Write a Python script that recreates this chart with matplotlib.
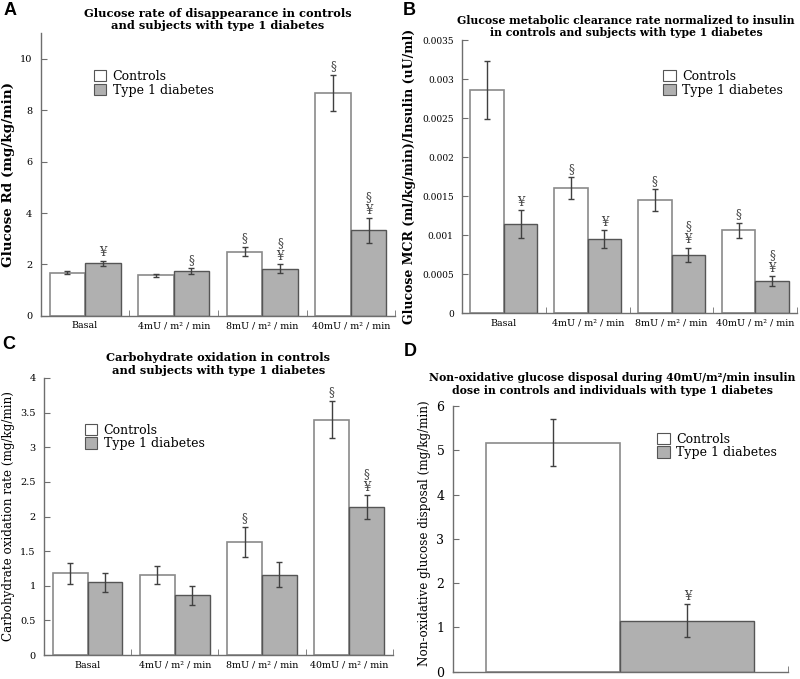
import numpy as np
import matplotlib
matplotlib.use("Agg")
import matplotlib.pyplot as plt
from matplotlib.patches import Patch

plt.rcParams['font.family'] = ['DejaVu Serif']

doses = ['Basal', '4mU / m² / min', '8mU / m² / min', '40mU / m² / min']

# A - glucose Rd
rd_ctrl = [1.68, 1.57, 2.50, 8.68]
rd_ctrl_err = [0.07, 0.07, 0.19, 0.70]
rd_t1d = [2.04, 1.74, 1.83, 3.32]
rd_t1d_err = [0.10, 0.10, 0.17, 0.47]
rd_ann_ctrl = ['', '', '§', '§']
rd_ann_t1d = ['¥', '§', '§\n¥', '§\n¥']

# B - MCR / insulin
mcr_ctrl = [0.00286, 0.00160, 0.00145, 0.00106]
mcr_ctrl_err = [0.00037, 0.00014, 0.00014, 0.00010]
mcr_t1d = [0.00114, 0.00095, 0.00075, 0.00041]
mcr_t1d_err = [0.00018, 0.00011, 0.00009, 0.00006]
mcr_ann_ctrl = ['', '§', '§', '§']
mcr_ann_t1d = ['¥', '¥', '§\n¥', '§\n¥']

# C - carbohydrate oxidation
cho_ctrl = [1.18, 1.15, 1.63, 3.40]
cho_ctrl_err = [0.15, 0.13, 0.22, 0.27]
cho_t1d = [1.05, 0.86, 1.16, 2.14]
cho_t1d_err = [0.14, 0.135, 0.18, 0.17]
cho_ann_ctrl = ['', '', '§', '§']
cho_ann_t1d = ['', '', '', '§\n¥']

# D - non-oxidative disposal at 40mU
nox_ctrl = [5.17]
nox_ctrl_err = [0.53]
nox_t1d = [1.15]
nox_t1d_err = [0.37]
nox_ann_ctrl = ['']
nox_ann_t1d = ['¥']

EDGE = '#6e6e6e'
GRAY = '#b0b0b0'
ECOL = '#404040'


def panel(ax, ctrl, cerr, t1d, terr, actrl, at1d, ylim, yticks, ytl,
          title, ylabel, leg_xy, labels=True, title_pad=3, title_size=8.2,
          title_x=0.5, ylabel_size=10, ylabel_weight='bold', ylabel_y=0.5,
          ytick_size=7):
    n = len(ctrl)
    x = np.arange(n)
    w = 0.4
    ax.bar(x - w / 2, ctrl, w, color='white', edgecolor='#8a8a8a', lw=1.2)
    ax.bar(x + w / 2, t1d, w, color=GRAY, edgecolor='#555555', lw=1.0)
    ax.errorbar(x - w / 2, ctrl, yerr=cerr, fmt='none', ecolor=ECOL,
                elinewidth=1, capsize=2.5, capthick=1)
    ax.errorbar(x + w / 2, t1d, yerr=terr, fmt='none', ecolor=ECOL,
                elinewidth=1, capsize=2.5, capthick=1)
    for xs, vals, errs, anns in [(x - w / 2, ctrl, cerr, actrl),
                                 (x + w / 2, t1d, terr, at1d)]:
        for xi, v, e, s in zip(xs, vals, errs, anns):
            if s:
                ax.annotate(s, (xi, v + e), xytext=(0, 1),
                            textcoords='offset points', ha='center',
                            va='bottom', fontsize=8.5, color='#444444',
                            linespacing=0.95)
    ax.set_xlim(-0.5, n - 0.5)
    ax.set_ylim(*ylim)
    ax.set_yticks(yticks)
    ax.set_yticklabels(ytl)
    ax.spines['top'].set_visible(False)
    ax.spines['right'].set_visible(False)
    for s in ['left', 'bottom']:
        ax.spines[s].set_color(EDGE)
        ax.spines[s].set_linewidth(1.0)
    ax.tick_params(axis='y', direction='in', length=4, color=EDGE,
                   labelsize=ytick_size, pad=6)
    if labels:
        ax.set_xticks(x)
        ax.set_xticklabels(doses)
    else:
        ax.set_xticks([])
    ax.tick_params(axis='x', length=0, labelsize=6.8, pad=4)
    ax.set_xticks(np.arange(n) + 0.5, minor=True)
    ax.tick_params(axis='x', which='minor', direction='in', length=4,
                   color=EDGE)
    ax.set_title(title, fontsize=title_size, fontweight='bold', pad=title_pad,
                 linespacing=1.15, x=title_x)
    ax.set_ylabel(ylabel, fontsize=ylabel_size, fontweight=ylabel_weight,
                  labelpad=4)
    ax.yaxis.label.set_y(ylabel_y)
    handles = [Patch(facecolor='white', edgecolor='#555555', lw=0.8),
               Patch(facecolor=GRAY, edgecolor='#555555', lw=0.8)]
    ax.legend(handles, ['Controls', 'Type 1 diabetes'], loc='upper left',
              bbox_to_anchor=leg_xy, frameon=False, fontsize=9,
              handlelength=1.0, handleheight=1.0, handletextpad=0.5,
              labelspacing=0.05, borderpad=0, borderaxespad=0)


fig = plt.figure(figsize=(8, 6.79), dpi=100)

axA = fig.add_axes([0.051, 0.535, 0.443, 0.416])
panel(axA, rd_ctrl, rd_ctrl_err, rd_t1d, rd_t1d_err, rd_ann_ctrl, rd_ann_t1d,
      (0, 11), [0, 2, 4, 6, 8, 10], ['0', '2', '4', '6', '8', '10'],
      'Glucose rate of disappearance in controls\nand subjects with type 1 diabetes',
      'Glucose Rd (mg/kg/min)', (0.15, 0.87), ylabel_size=9.7)

axB = fig.add_axes([0.5775, 0.539, 0.419, 0.402])
bt = [0, 0.0005, 0.001, 0.0015, 0.002, 0.0025, 0.003, 0.0035]
panel(axB, mcr_ctrl, mcr_ctrl_err, mcr_t1d, mcr_t1d_err, mcr_ann_ctrl, mcr_ann_t1d,
      (0, 0.0035), bt, ['0', '0.0005', '0.001', '0.0015', '0.002', '0.0025', '0.003', '0.0035'],
      'Glucose metabolic clearance rate normalized to insulin\nin controls and subjects with type 1 diabetes',
      'Glucose MCR (ml/kg/min)/Insulin (uU/ml)', (0.6, 0.89), ylabel_size=9,
      ytick_size=6.5, title_size=7.8, title_x=0.49)

axC = fig.add_axes([0.055, 0.0353, 0.436, 0.408])
ct = [0, 0.5, 1, 1.5, 2, 2.5, 3, 3.5, 4]
panel(axC, cho_ctrl, cho_ctrl_err, cho_t1d, cho_t1d_err, cho_ann_ctrl, cho_ann_t1d,
      (0, 4), ct, ['0', '0.5', '1', '1.5', '2', '2.5', '3', '3.5', '4'],
      'Carbohydrate oxidation in controls\nand subjects with type 1 diabetes',
      'Carbohydrate oxidation rate (mg/kg/min)', (0.117, 0.835), ylabel_size=8.6,
      ylabel_weight='normal')

axD = fig.add_axes([0.566, 0.011, 0.419, 0.391])
panel(axD, nox_ctrl, nox_ctrl_err, nox_t1d, nox_t1d_err, nox_ann_ctrl, nox_ann_t1d,
      (0, 6), [0, 1, 2, 3, 4, 5, 6], ['0', '1', '2', '3', '4', '5', '6'],
      'Non-oxidative glucose disposal during 40mU/m²/min insulin\ndose in controls and individuals with type 1 diabetes',
      'Non-oxidative glucose disposal (mg/kg/min)', (0.61, 0.9),
      labels=False, title_pad=9, title_size=7.8, title_x=0.475,
      ylabel_size=8.6, ylabel_weight='normal', ylabel_y=0.52, ytick_size=9)

for lbl, (px, py) in zip('ABCD', [(4, 2), (403, 2), (2, 336), (404, 343)]):
    fig.text(px / 800, 1 - py / 679, lbl, family='Liberation Sans',
             fontweight='bold', fontsize=13, ha='left', va='top')

fig.savefig('out.png', dpi=100)
